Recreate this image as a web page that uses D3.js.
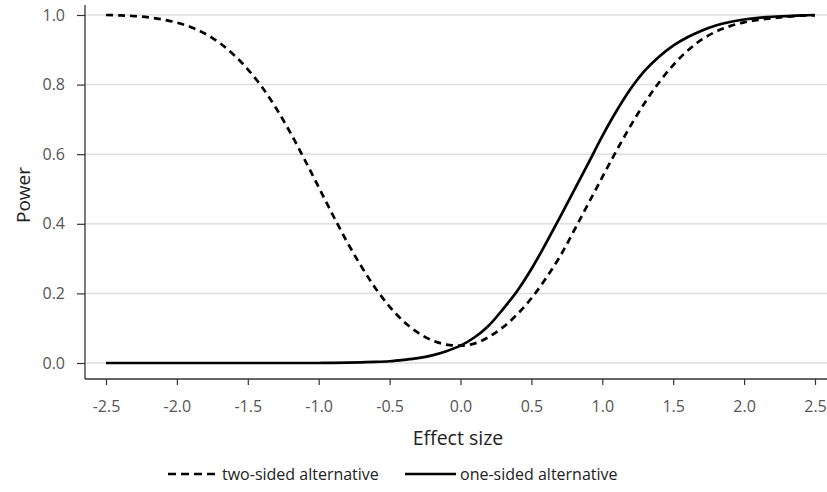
<!DOCTYPE html>
<html>
<head>
<meta charset="utf-8">
<script src="https://cdn.jsdelivr.net/npm/d3@7"></script>
<style>
  body { margin: 0; background: #fff; }
  svg { display: block; }
  text { font-family: "Open Sans", "Noto Sans", sans-serif; }
</style>
</head>
<body>
<svg id="chart" width="827" height="492"></svg>
<script>
const effectSize = [-2.5,-2.4,-2.3,-2.2,-2.1,-2.0,-1.9,-1.8,-1.7,-1.6,-1.5,-1.4,-1.3,-1.2,-1.1,-1.0,-0.9,-0.8,-0.7,-0.6,-0.5,-0.4,-0.3,-0.2,-0.1,0.0,0.1,0.2,0.3,0.4,0.5,0.6,0.7,0.8,0.9,1.0,1.1,1.2,1.3,1.4,1.5,1.6,1.7,1.8,1.9,2.0,2.1,2.2,2.3,2.4,2.5];
const twoSided = [1.000,0.999,0.997,0.993,0.987,0.978,0.965,0.946,0.920,0.886,0.844,0.793,0.732,0.662,0.585,0.505,0.425,0.348,0.278,0.215,0.162,0.119,0.087,0.065,0.053,0.050,0.056,0.075,0.103,0.140,0.186,0.242,0.305,0.380,0.457,0.534,0.610,0.682,0.748,0.806,0.856,0.897,0.929,0.952,0.968,0.979,0.986,0.991,0.995,0.998,0.999];
const oneSided = [0,0,0,0,0,0,0,0,0,0,0,0,0,0,0,0,0.0005,0.001,0.002,0.003,0.005,0.009,0.014,0.022,0.034,0.050,0.074,0.108,0.155,0.207,0.270,0.342,0.418,0.495,0.573,0.652,0.724,0.788,0.840,0.880,0.912,0.936,0.955,0.970,0.980,0.987,0.992,0.995,0.997,0.999,1.000];
const xTicks = [-2.5,-2.0,-1.5,-1.0,-0.5,0.0,0.5,1.0,1.5,2.0,2.5];
const yTicks = [0.0,0.2,0.4,0.6,0.8,1.0];
const seriesNames = ["two-sided alternative","one-sided alternative"];

const svg = d3.select("#chart");
const plotLeft = 85, plotRight = 827, plotTop = 5, plotBottom = 379;
const x = d3.scaleLinear().domain([-2.5, 2.5]).range([106, 815]);
const y = d3.scaleLinear().domain([0, 1]).range([363, 15]);
const fmt = d => d3.format(".1f")(d).replace("\u2212", "-");

// gridlines
svg.append("g").selectAll("line").data(yTicks).join("line")
  .attr("x1", plotLeft).attr("x2", plotRight)
  .attr("y1", d => y(d)).attr("y2", d => y(d))
  .attr("stroke", "#dedede").attr("stroke-width", 1.5);

// y axis
const yAxis = svg.append("g").attr("transform", `translate(${plotLeft},0)`)
  .call(d3.axisLeft(y).tickValues(yTicks).tickFormat(fmt).tickSize(8).tickPadding(12));
yAxis.select(".domain").remove();
yAxis.append("line").attr("x1", 0).attr("x2", 0).attr("y1", plotTop).attr("y2", plotBottom)
  .attr("stroke", "#333").attr("stroke-width", 1.3);
yAxis.selectAll(".tick line").attr("stroke", "#333").attr("stroke-width", 1.2);
yAxis.selectAll(".tick text").attr("fill", "#555").style("font-size", "16px");

// x axis
const xAxis = svg.append("g").attr("transform", `translate(0,${plotBottom})`)
  .call(d3.axisBottom(x).tickValues(xTicks).tickFormat(fmt).tickSize(6).tickPadding(16));
xAxis.select(".domain").remove();
xAxis.append("line").attr("x1", plotLeft).attr("x2", plotRight).attr("y1", 0).attr("y2", 0)
  .attr("stroke", "#333").attr("stroke-width", 1.3);
xAxis.selectAll(".tick line").attr("stroke", "#333").attr("stroke-width", 1.2);
xAxis.selectAll(".tick text").attr("fill", "#555").style("font-size", "16px");

// axis titles
svg.append("text").attr("x", 458).attr("y", 445).attr("text-anchor", "middle")
  .attr("fill", "#222").style("font-size", "19.5px").text("Effect size");
svg.append("text").attr("transform", "translate(30,195) rotate(-90)").attr("text-anchor", "middle")
  .attr("fill", "#222").style("font-size", "19px").text("Power");

// lines
const line = d3.line().x(d => x(d[0])).y(d => y(d[1])).curve(d3.curveCatmullRom.alpha(0.5));
svg.append("path").datum(effectSize.map((e, i) => [e, twoSided[i]]))
  .attr("d", line).attr("fill", "none").attr("stroke", "#000")
  .attr("stroke-width", 2.7).attr("stroke-dasharray", "7,5");
svg.append("path").datum(effectSize.map((e, i) => [e, oneSided[i]]))
  .attr("d", line).attr("fill", "none").attr("stroke", "#000")
  .attr("stroke-width", 2.7);

// legend
const lg = svg.append("g");
lg.append("line").attr("x1", 168).attr("x2", 219).attr("y1", 474).attr("y2", 474)
  .attr("stroke", "#000").attr("stroke-width", 2.7).attr("stroke-dasharray", "8,5");
lg.append("text").attr("x", 222).attr("y", 480).attr("fill", "#222").style("font-size", "16px").text(seriesNames[0]);
lg.append("line").attr("x1", 405).attr("x2", 456).attr("y1", 474).attr("y2", 474)
  .attr("stroke", "#000").attr("stroke-width", 2.7);
lg.append("text").attr("x", 460).attr("y", 480).attr("fill", "#222").style("font-size", "16px").text(seriesNames[1]);
</script>
</body>
</html>
